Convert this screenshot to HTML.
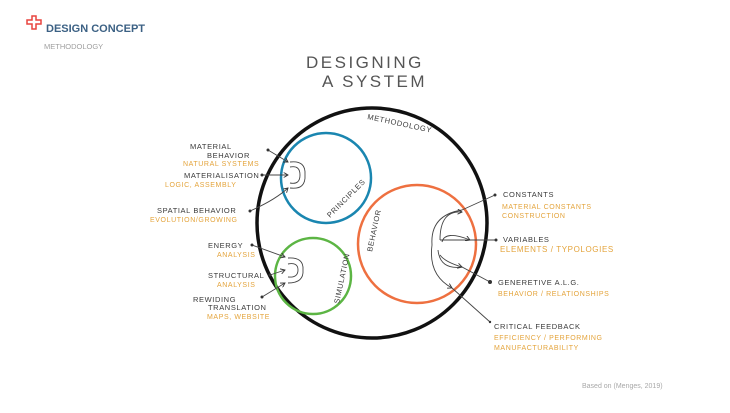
<!DOCTYPE html>
<html><head><meta charset="utf-8"><style>
html,body{margin:0;padding:0;background:#fff;width:730px;height:413px;overflow:hidden}
svg{display:block}
.t{font-family:"Liberation Sans",sans-serif;font-size:7.5px;fill:#3a3a3a;letter-spacing:0.6px}
.o{font-family:"Liberation Sans",sans-serif;font-size:7px;fill:#e4a43c;letter-spacing:0.6px}
</style></head><body>
<svg width="730" height="413" viewBox="0 0 730 413">
<defs><marker id="a" markerWidth="6" markerHeight="6" refX="5" refY="3" orient="auto"><path d="M0,0 L5,3 L0,6" fill="none" stroke="#333" stroke-width="1"/></marker></defs>
<!-- header -->
<path d="M27 20h5v-4h4v4h5v4h-5v5h-4v-5h-5z" fill="none" stroke="#e8443f" stroke-width="1.5"/>
<text x="46" y="32" font-family="Liberation Sans,sans-serif" font-weight="bold" font-size="11" fill="#3c6184">DESIGN CONCEPT</text>
<text x="44" y="49" font-family="Liberation Sans,sans-serif" font-size="7.5" fill="#a0a0a0">METHODOLOGY</text>
<text x="582" y="388" font-family="Liberation Sans,sans-serif" font-size="7" fill="#a8a8a8">Based on (Menges, 2019)</text>
<!-- title -->
<text x="306" y="68" font-family="Liberation Sans,sans-serif" font-size="17" fill="#555" letter-spacing="2.5" font-weight="300">DESIGNING</text>
<text x="322" y="87" font-family="Liberation Sans,sans-serif" font-size="17" fill="#555" letter-spacing="2.5">A SYSTEM</text>
<!-- circles -->
<circle cx="372" cy="223" r="115" fill="none" stroke="#111" stroke-width="3.5"/>
<circle cx="326" cy="178" r="45" fill="none" stroke="#1a86b0" stroke-width="2.5"/>
<circle cx="313" cy="276" r="38" fill="none" stroke="#5cb544" stroke-width="2.5"/>
<circle cx="417" cy="244" r="59" fill="none" stroke="#ee7040" stroke-width="2.5"/>
<text x="0" y="0" class="t" transform="translate(367,119) rotate(12)">METHODOLOGY</text>
<text x="0" y="0" class="t" transform="translate(330,218) rotate(-45)">PRINCIPLES</text>
<text x="0" y="0" class="t" transform="translate(339,304) rotate(-78)">SIMULATION</text>
<text x="0" y="0" class="t" transform="translate(372,252) rotate(-78)">BEHAVIOR</text>
<!-- left connectors -->
<g fill="none" stroke="#444" stroke-width="0.9">
<path d="M268,150 L288,162" marker-end="url(#a)"/>
<path d="M262,175 L288,175" marker-end="url(#a)"/>
<path d="M250,211 Q275,200 288,188" marker-end="url(#a)"/>
<path d="M305,175 Q306,160 290,162"/><path d="M305,175 Q306,190 290,188"/><path d="M300,175 Q300,165 290,167"/><path d="M300,175 Q300,185 290,183"/>
<path d="M252,245 L285,257" marker-end="url(#a)"/>
<path d="M270,275 L285,270" marker-end="url(#a)"/>
<path d="M262,297 L285,283" marker-end="url(#a)"/>
<path d="M303,270 Q304,257 288,258"/><path d="M303,270 Q304,283 288,283"/><path d="M298,270 Q298,262 288,264"/><path d="M298,270 Q298,278 288,277"/>
<!-- right connectors -->
<path d="M432,245 Q430,215 462,210 L495,195" />
<path d="M440,240 Q440,210 462,212" marker-end="url(#a)"/>
<path d="M440,240 Q455,240 470,240 L496,240" />
<path d="M442,242 Q445,230 470,240" marker-end="url(#a)"/>
<path d="M438,250 Q440,270 462,267 L490,282" />
<path d="M440,255 Q445,262 462,267" marker-end="url(#a)"/>
<path d="M432,245 Q428,275 452,288" marker-end="url(#a)"/>
<path d="M452,288 L490,322"/>
</g>
<g fill="#333"><circle cx="268" cy="150" r="1.5"/><circle cx="262" cy="175" r="1.5"/><circle cx="250" cy="211" r="1.5"/><circle cx="252" cy="245" r="1.5"/><circle cx="270" cy="275" r="1.5"/><circle cx="262" cy="297" r="1.5"/><circle cx="495" cy="195" r="1.5"/><circle cx="496" cy="240" r="1.5"/><circle cx="490" cy="282" r="2"/><circle cx="490" cy="322" r="1.2"/></g>
<!-- left labels -->
<text x="190" y="149" class="t">MATERIAL</text>
<text x="207" y="158" class="t">BEHAVIOR</text>
<text x="183" y="166" class="o">NATURAL SYSTEMS</text>
<text x="184" y="178" class="t">MATERIALISATION</text>
<text x="165" y="187" class="o">LOGIC, ASSEMBLY</text>
<text x="157" y="213" class="t">SPATIAL BEHAVIOR</text>
<text x="150" y="222" class="o">EVOLUTION/GROWING</text>
<text x="208" y="248" class="t">ENERGY</text>
<text x="217" y="257" class="o">ANALYSIS</text>
<text x="208" y="278" class="t">STRUCTURAL</text>
<text x="217" y="287" class="o">ANALYSIS</text>
<text x="193" y="302" class="t">REWIDING</text>
<text x="208" y="310" class="t">TRANSLATION</text>
<text x="207" y="319" class="o">MAPS, WEBSITE</text>
<!-- right labels -->
<text x="503" y="197" class="t">CONSTANTS</text>
<text x="502" y="209" class="o">MATERIAL CONSTANTS</text>
<text x="502" y="218" class="o">CONSTRUCTION</text>
<text x="503" y="242" class="t">VARIABLES</text>
<text x="500" y="252" class="o" style="font-size:8px">ELEMENTS / TYPOLOGIES</text>
<text x="498" y="285" class="t">GENERETIVE A.L.G.</text>
<text x="498" y="296" class="o">BEHAVIOR / RELATIONSHIPS</text>
<text x="494" y="329" class="t">CRITICAL FEEDBACK</text>
<text x="494" y="340" class="o">EFFICIENCY / PERFORMING</text>
<text x="494" y="350" class="o">MANUFACTURABILITY</text>
</svg>
</body></html>
